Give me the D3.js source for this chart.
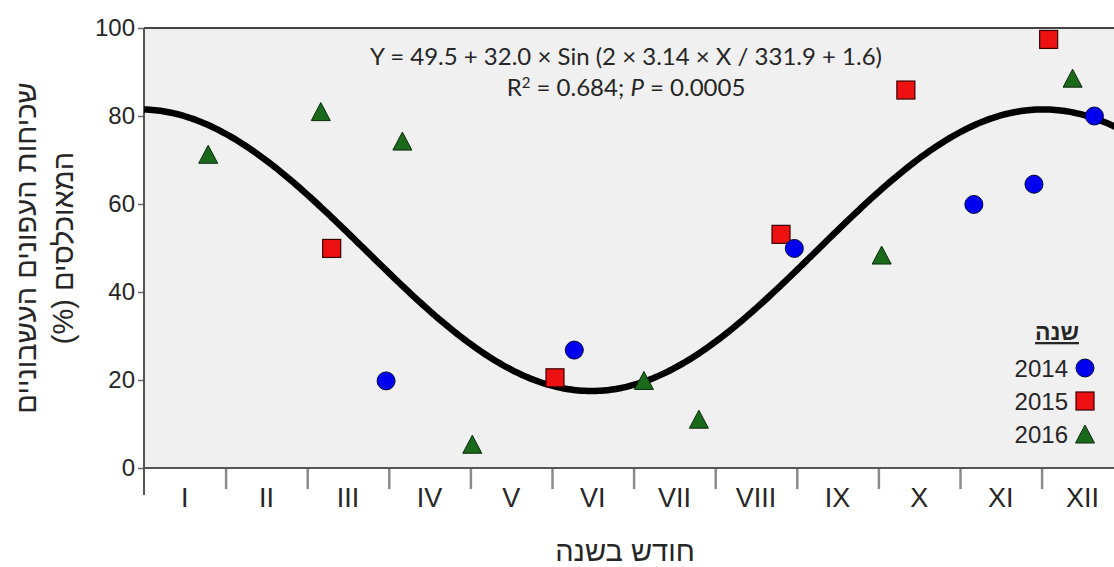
<!DOCTYPE html>
<html>
<head>
<meta charset="utf-8">
<script src="https://cdn.jsdelivr.net/npm/d3@7"></script>
<style>
  html, body { margin: 0; padding: 0; background: #ffffff; }
  svg { display: block; }
</style>
</head>
<body>
<svg id="chart" width="1114" height="567"></svg>
<script>
// Monthly occupancy data: x = day of year (30-day months), y = percent
const months = ["I","II","III","IV","V","VI","VII","VIII","IX","X","XI","XII"];
const yTicks = [0, 20, 40, 60, 80, 100];

const days2014 = [89, 158.2, 239.1, 305.1, 327.2, 349.4];
const vals2014 = [19.8, 26.8, 49.9, 59.9, 64.5, 80.0];

const days2015 = [69, 151.1, 234.2, 280.1, 332.6];
const vals2015 = [49.9, 20.5, 53.1, 85.9, 97.4];

const days2016 = [23.6, 65, 95, 120.7, 183.8, 204, 271.2, 341.4];
const vals2016 = [71.3, 81.0, 74.3, 5.4, 19.9, 11.1, 48.4, 88.6];

const years = ["2014", "2015", "2016"];

// Fitted sinusoidal model  Y = a + b * sin(2*pi*X/period + phase)
const fitA = 49.5, fitB = 32.0, fitPi = 3.14, fitPeriod = 331.9, fitPhase = 1.6;
const fitR2 = "0.684", fitP = "0.0005";

(function draw() {
  const svg = d3.select("#chart");
  const pLeft = 144, pTop = 28, pBottom = 468, pRight = 1114;
  const monthWidth = 81.6;

  const x = d3.scaleLinear().domain([0, 360]).range([pLeft, pLeft + 12 * monthWidth]);
  const y = d3.scaleLinear().domain([0, 100]).range([pBottom, pTop]);

  const textFont = "'Liberation Sans', Arial, 'DejaVu Sans', sans-serif";
  const ink = "#262626";

  // plot background
  svg.append("rect")
    .attr("x", pLeft).attr("y", pTop)
    .attr("width", pRight - pLeft).attr("height", pBottom - pTop)
    .attr("fill", "#f0f0f0");

  svg.append("defs").append("clipPath").attr("id", "plotClip")
    .append("rect").attr("x", pLeft).attr("y", pTop - 20)
    .attr("width", pRight - pLeft).attr("height", pBottom - pTop + 20);

  // top border
  svg.append("line")
    .attr("x1", pLeft).attr("x2", pRight).attr("y1", pTop).attr("y2", pTop)
    .attr("stroke", "#444").attr("stroke-width", 2);

  // y axis
  const yAxis = svg.append("g")
    .attr("transform", `translate(${pLeft},0)`)
    .call(d3.axisLeft(y).tickValues(yTicks).tickSize(6).tickPadding(3));
  yAxis.select(".domain").remove();
  yAxis.selectAll(".tick line").attr("stroke", "#666").attr("stroke-width", 1.5);
  yAxis.selectAll(".tick text")
    .attr("font-family", textFont).attr("font-size", 24).attr("fill", ink);
  svg.append("line")
    .attr("x1", pLeft).attr("x2", pLeft).attr("y1", pTop).attr("y2", pBottom + 27)
    .attr("stroke", "#555").attr("stroke-width", 2);

  // x axis: month boundaries as ticks, names centred in each month
  const monthStarts = d3.range(0, 12).map(i => i * 30);
  const xAxis = svg.append("g")
    .attr("transform", `translate(0,${pBottom})`)
    .call(d3.axisBottom(x).tickValues(monthStarts.slice(1)).tickSize(21).tickFormat(""));
  xAxis.select(".domain").remove();
  xAxis.selectAll(".tick line").attr("stroke", "#8a8a8a").attr("stroke-width", 2.5);
  svg.append("line")
    .attr("x1", pLeft).attr("x2", pRight).attr("y1", pBottom).attr("y2", pBottom)
    .attr("stroke", "#555").attr("stroke-width", 2);

  svg.append("g").selectAll("text")
    .data(months)
    .join("text")
    .attr("x", (d, i) => x(i * 30 + 15))
    .attr("y", 507)
    .attr("text-anchor", "middle")
    .attr("font-family", textFont).attr("font-size", 27).attr("fill", ink)
    .text(d => d);

  // fitted curve
  const fitDays = d3.range(0, 370, 1);
  const fitLine = d3.line()
    .x(d => x(d))
    .y(d => y(fitA + fitB * Math.sin(2 * fitPi * d / fitPeriod + fitPhase)))
    .curve(d3.curveBasis);
  svg.append("path")
    .datum(fitDays)
    .attr("clip-path", "url(#plotClip)")
    .attr("d", fitLine)
    .attr("fill", "none")
    .attr("stroke", "#000")
    .attr("stroke-width", 6.5)
    .attr("stroke-linecap", "round");

  // markers
  const circleR = 9, sqSide = 18, triW = 19, triH = 18;
  const triPath = `M0,${-triH/2}L${triW/2},${triH/2}L${-triW/2},${triH/2}Z`;
  const blue = "#0000ee", red = "#ee1111", green = "#1b6a1b";

  const pts = svg.append("g").attr("clip-path", "url(#plotClip)");

  pts.selectAll("path.t16")
    .data(days2016.map((d, i) => [d, vals2016[i]]))
    .join("path").attr("class", "t16")
    .attr("d", triPath)
    .attr("transform", d => `translate(${x(d[0])},${y(d[1])})`)
    .attr("fill", green).attr("stroke", "#0a2a0a").attr("stroke-width", 1);

  pts.selectAll("rect.s15")
    .data(days2015.map((d, i) => [d, vals2015[i]]))
    .join("rect").attr("class", "s15")
    .attr("x", d => x(d[0]) - sqSide / 2)
    .attr("y", d => y(d[1]) - sqSide / 2)
    .attr("width", sqSide).attr("height", sqSide)
    .attr("fill", red).attr("stroke", "#3a0000").attr("stroke-width", 1.2);

  pts.selectAll("circle.c14")
    .data(days2014.map((d, i) => [d, vals2014[i]]))
    .join("circle").attr("class", "c14")
    .attr("cx", d => x(d[0])).attr("cy", d => y(d[1]))
    .attr("r", circleR)
    .attr("fill", blue).attr("stroke", "#00003a").attr("stroke-width", 1);

  // equation annotation
  const eqFont = "Lato, 'Open Sans', sans-serif";
  svg.append("text")
    .attr("x", 626).attr("y", 65)
    .attr("text-anchor", "middle")
    .attr("font-family", eqFont).attr("font-size", 24).attr("fill", ink)
    .text(`Y = ${fitA.toFixed(1)} + ${fitB.toFixed(1)} × Sin (2 × ${fitPi} × X / ${fitPeriod} + ${fitPhase})`);

  const r2 = svg.append("text")
    .attr("x", 626).attr("y", 96)
    .attr("text-anchor", "middle")
    .attr("font-family", eqFont).attr("font-size", 24).attr("fill", ink);
  r2.append("tspan").text("R");
  r2.append("tspan").attr("dy", -8).attr("font-size", 15).text("2");
  r2.append("tspan").attr("dy", 8).text(` = ${fitR2}; `);
  r2.append("tspan").attr("font-style", "italic").text("P");
  r2.append("tspan").text(` = ${fitP}`);

  // legend
  const legX = 1068;
  svg.append("text")
    .attr("x", 1057).attr("y", 340)
    .attr("text-anchor", "middle")
    .attr("font-family", textFont).attr("font-size", 23).attr("font-weight", "bold")
    .attr("fill", ink).attr("text-decoration", "underline")
    .attr("direction", "rtl")
    .text("שנה");

  const legRows = [
    { year: years[0], yPos: 368 },
    { year: years[1], yPos: 401 },
    { year: years[2], yPos: 434 }
  ];
  legRows.forEach((r, i) => {
    svg.append("text")
      .attr("x", legX).attr("y", r.yPos + 8.5)
      .attr("text-anchor", "end")
      .attr("font-family", textFont).attr("font-size", 24).attr("fill", ink)
      .text(r.year);
    const mx = 1085;
    if (i === 0) {
      svg.append("circle").attr("cx", mx).attr("cy", r.yPos).attr("r", circleR)
        .attr("fill", blue).attr("stroke", "#00003a").attr("stroke-width", 1);
    } else if (i === 1) {
      svg.append("rect").attr("x", mx - sqSide / 2).attr("y", r.yPos - sqSide / 2)
        .attr("width", sqSide).attr("height", sqSide)
        .attr("fill", red).attr("stroke", "#3a0000").attr("stroke-width", 1.2);
    } else {
      svg.append("path").attr("d", triPath)
        .attr("transform", `translate(${mx},${r.yPos})`)
        .attr("fill", green).attr("stroke", "#0a2a0a").attr("stroke-width", 1);
    }
  });

  // axis titles
  const yTitle = svg.append("g").attr("transform", "translate(0,248) rotate(-90)");
  yTitle.append("text")
    .attr("x", 0).attr("y", 36)
    .attr("text-anchor", "middle").attr("direction", "rtl")
    .attr("font-family", textFont).attr("font-size", 29).attr("fill", ink)
    .text("שכיחות העפונים העשבוניים");
  yTitle.append("text")
    .attr("x", 0).attr("y", 73)
    .attr("text-anchor", "middle").attr("direction", "rtl")
    .attr("font-family", textFont).attr("font-size", 29).attr("fill", ink)
    .text("המאוכלסים (%)");

  svg.append("text")
    .attr("x", 625).attr("y", 561)
    .attr("text-anchor", "middle").attr("direction", "rtl")
    .attr("font-family", textFont).attr("font-size", 29).attr("fill", ink)
    .text("חודש בשנה");
})();
</script>
</body>
</html>
